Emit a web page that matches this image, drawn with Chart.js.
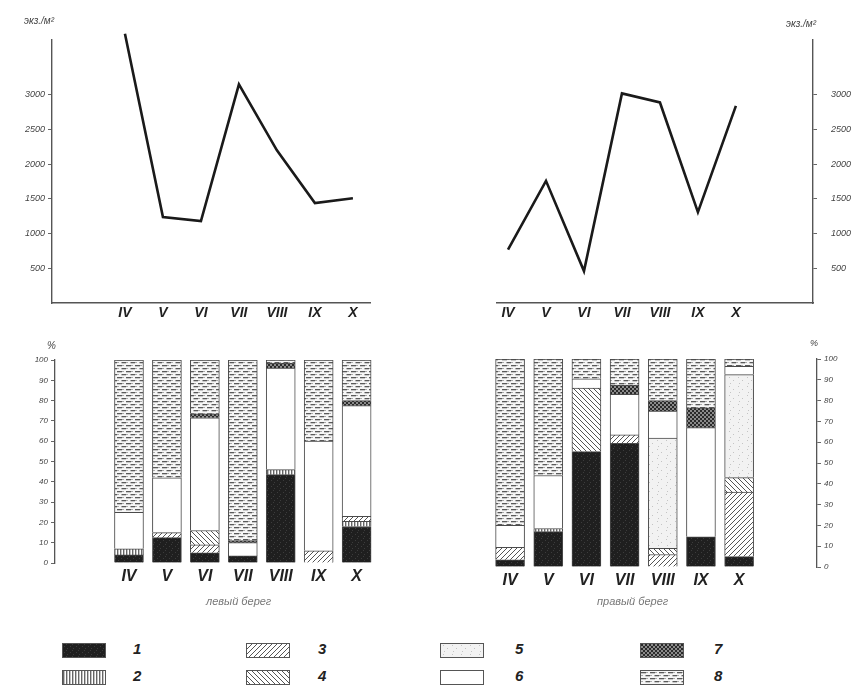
<!DOCTYPE html>
<html>
<head>
<meta charset="utf-8">
<script src="https://cdn.jsdelivr.net/npm/chart.js@4/dist/chart.umd.min.js"></script>
<style>
  html, body { margin: 0; padding: 0; background: #fff; }
  body { width: 859px; height: 689px; position: relative; overflow: hidden;
         font-family: "Liberation Sans", "DejaVu Sans", sans-serif; color: #333; }
  canvas.chart { position: absolute; }
  .txt { position: absolute; font-style: italic; white-space: nowrap; color: #444; }
  .leg { position: absolute; }
  .leg canvas { position: absolute; left: 0; top: 0; border: 1px solid #555; }
  .leg span { position: absolute; top: -3px; font: italic bold 15px "Liberation Sans", sans-serif; color: #222; }
</style>
</head>
<body>
<canvas class="chart" id="lineLeft"  width="400" height="330" style="left:0;top:0"></canvas>
<canvas class="chart" id="lineRight" width="429" height="330" style="left:430px;top:0"></canvas>
<canvas class="chart" id="barLeft"   width="400" height="260" style="left:0;top:340px"></canvas>
<canvas class="chart" id="barRight"  width="429" height="260" style="left:430px;top:340px"></canvas>

<div class="txt" style="left:24px;top:15px;font-size:10px">экз./м²</div>
<div class="txt" style="left:786px;top:18px;font-size:10px">экз./м²</div>
<div class="txt" style="left:47px;top:340px;font-size:10px">%</div>
<div class="txt" style="left:810px;top:338px;font-size:9px">%</div>
<div class="txt" style="left:206px;top:595px;font-size:11px;color:#777">левый берег</div>
<div class="txt" style="left:597px;top:595px;font-size:11px;color:#777">правый берег</div>

<div id="legend"></div>

<script>
// Months of sampling (Roman numerals)
const months = ['IV', 'V', 'VI', 'VII', 'VIII', 'IX', 'X'];

// Total abundance, ind./m²
const abundanceLeft  = [3880, 1240, 1180, 3150, 2200, 1440, 1510];
const abundanceRight = [770, 1760, 460, 3020, 2890, 1310, 2840];
const abundanceTicks = [500, 1000, 1500, 2000, 2500, 3000];

// Share of groups 1–8, % (left bank)
const left1 = [4, 12.5, 5, 3.5, 43.5, 0, 18];
const left2 = [3, 0, 0, 0, 2.5, 0, 2.5];
const left3 = [0, 2.5, 4, 0, 0, 6, 2.5];
const left4 = [0, 0, 7, 0, 0, 0, 0];
const left5 = [0, 0, 0, 0, 0, 0, 0];
const left6 = [18, 27, 55.5, 6.5, 50, 54, 54.5];
const left7 = [0, 0, 2, 1, 2.5, 0, 2.5];
const left8 = [75, 58, 26.5, 89, 1.5, 40, 20];

// Share of groups 1–8, % (right bank)
const right1 = [3.5, 17, 55.5, 59.5, 0, 14.5, 5];
const right2 = [0, 1.5, 0, 0, 0, 0, 0];
const right3 = [6, 0, 0, 4, 6, 0, 31];
const right4 = [0, 0, 30.5, 0, 3, 0, 7];
const right5 = [0, 0, 0, 0, 53, 0, 49.5];
const right6 = [10.5, 25.5, 4.5, 19.5, 13, 52.5, 4];
const right7 = [0, 0, 0, 4.5, 5, 9.5, 0];
const right8 = [80, 56, 9.5, 12.5, 20, 23.5, 3.5];

const groupLabels = ['1', '2', '3', '4', '5', '6', '7', '8'];
const percentTicks = [0, 10, 20, 30, 40, 50, 60, 70, 80, 90, 100];

// ---- fill patterns for the eight groups ----
function tile(w, h, draw) {
  const c = document.createElement('canvas');
  c.width = w; c.height = h;
  const g = c.getContext('2d');
  draw(g, w, h);
  return c;
}
const tiles = [
  tile(6, 6, (g) => { g.fillStyle = '#1f1f1f'; g.fillRect(0, 0, 6, 6);
                      g.fillStyle = '#3c3c3c'; g.fillRect(1, 2, 1, 1); g.fillRect(4, 4, 1, 1); g.fillRect(3, 0, 1, 1); }),
  tile(3, 3, (g) => { g.fillStyle = '#fff'; g.fillRect(0, 0, 3, 3);
                      g.fillStyle = '#666'; g.fillRect(0, 0, 1.4, 3); }),
  tile(5, 5, (g) => { g.fillStyle = '#fff'; g.fillRect(0, 0, 5, 5);
                      g.strokeStyle = '#555'; g.lineWidth = 1;
                      g.beginPath(); g.moveTo(-1, 6); g.lineTo(6, -1); g.moveTo(-1, 1); g.lineTo(1, -1); g.moveTo(4, 6); g.lineTo(6, 4); g.stroke(); }),
  tile(5, 5, (g) => { g.fillStyle = '#fff'; g.fillRect(0, 0, 5, 5);
                      g.strokeStyle = '#555'; g.lineWidth = 1;
                      g.beginPath(); g.moveTo(-1, -1); g.lineTo(6, 6); g.moveTo(4, -1); g.lineTo(6, 1); g.moveTo(-1, 4); g.lineTo(1, 6); g.stroke(); }),
  tile(9, 9, (g) => { g.fillStyle = '#f2f2f2'; g.fillRect(0, 0, 9, 9);
                      g.fillStyle = '#c4c4c4'; g.fillRect(2, 1, 1, 1); g.fillRect(6, 4, 1, 1); g.fillRect(3, 7, 1, 1); }),
  tile(4, 4, (g) => { g.fillStyle = '#fff'; g.fillRect(0, 0, 4, 4); }),
  tile(4, 4, (g) => { g.fillStyle = '#8a8a8a'; g.fillRect(0, 0, 4, 4);
                      g.fillStyle = '#2a2a2a'; g.fillRect(0, 0, 2, 2); g.fillRect(2, 2, 2, 2); }),
  tile(9, 6, (g) => { g.fillStyle = '#f6f6f6'; g.fillRect(0, 0, 9, 6);
                      g.fillStyle = '#5a5a5a'; g.fillRect(0, 1, 5, 1.3); g.fillRect(4.5, 4, 5, 1.3);
                      g.fillStyle = '#aaa'; g.fillRect(5, 1, 2, 1); g.fillRect(0, 4, 2, 1); })
];
const mainCtx = document.createElement('canvas').getContext('2d');
const fills = tiles.map(t => mainCtx.createPattern(t, 'repeat'));

// ---- shared helpers ----
const numFont = { family: 'Liberation Sans', style: 'italic', size: 9 };
const romanFont = (size) => ({ family: 'Liberation Sans', style: 'italic', weight: 'bold', size });
const plain = (v) => String(v);

function fixedTicks(values) {
  return (scale) => { scale.ticks = values.map(v => ({ value: v })); };
}
function monthAxis(min, max, size, opts) {
  return Object.assign({
    type: 'linear', min, max, offset: false,
    afterBuildTicks: fixedTicks(months.map((m, i) => i)),
    ticks: { callback: (v) => months[v] ?? '', color: '#222', font: romanFont(size),
             autoSkip: false, maxRotation: 0, padding: 2 },
  }, opts);
}

// ---- line charts ----
function lineChart(id, values, side, xmin, xmax, padding, yWidth, labelGap) {
  return new Chart(document.getElementById(id), {
    type: 'line',
    data: {
      datasets: [{
        data: values.map((v, i) => ({ x: i, y: v })),
        borderColor: '#1a1a1a', borderWidth: 2.6, pointRadius: 0,
        tension: 0, fill: false, clip: false
      }]
    },
    options: {
      responsive: false, animation: false, events: [],
      layout: { padding },
      plugins: { legend: { display: false }, tooltip: { enabled: false } },
      scales: {
        x: monthAxis(xmin, xmax, 14, {
          grid: { drawOnChartArea: false, drawTicks: false },
          border: { display: true, color: '#555', width: 1.4 },
          afterFit: (s) => { s.height = 27; }
        }),
        y: {
          type: 'linear', position: side, min: 0, max: 3790,
          afterBuildTicks: fixedTicks(abundanceTicks),
          ticks: { color: '#444', font: numFont, padding: labelGap, callback: plain },
          grid: { drawOnChartArea: false, drawTicks: true, tickLength: 4, color: '#666' },
          border: { display: true, color: '#555', width: 1.4 },
          afterFit: (s) => { s.width = yWidth; }
        }
      }
    }
  });
}
lineChart('lineLeft', abundanceLeft, 'left', -1.92, 6.45, { top: 40, right: 30, left: 0, bottom: 0 }, 52, 3);
lineChart('lineRight', abundanceRight, 'right', -0.29, 8.03, { top: 40, left: 67, right: 0, bottom: 0 }, 46, 14);

// ---- stacked bar charts ----
function barChart(id, groups, side, xmin, xmax, padding, yWidth, xHeight) {
  return new Chart(document.getElementById(id), {
    type: 'bar',
    data: {
      datasets: groups.map((arr, k) => ({
        label: groupLabels[k],
        data: arr.map((v, i) => ({ x: i, y: v })).filter(p => p.y > 0),
        backgroundColor: fills[k],
        borderColor: '#4a4a4a', borderWidth: 1,
        barThickness: 29
      }))
    },
    options: {
      responsive: false, animation: false, events: [],
      layout: { padding },
      plugins: { legend: { display: false }, tooltip: { enabled: false } },
      scales: {
        x: monthAxis(xmin, xmax, 16, {
          stacked: true,
          grid: { display: false, drawTicks: false }, border: { display: false },
          ticks: { callback: (v) => months[v] ?? '', color: '#222', font: romanFont(16),
                   autoSkip: false, maxRotation: 0, padding: 4 },
          afterFit: (s) => { s.height = xHeight; }
        }),
        y: {
          type: 'linear', position: side, stacked: true, min: 0, max: 100,
          afterBuildTicks: fixedTicks(percentTicks),
          ticks: { color: '#444', font: { family: 'Liberation Sans', style: 'italic', size: 8 }, padding: 3, callback: plain },
          grid: { drawOnChartArea: false, drawTicks: true, tickLength: 4, color: '#666' },
          border: { display: true, color: '#555', width: 1.3 },
          afterFit: (s) => { s.width = yWidth; }
        }
      }
    }
  });
}
barChart('barLeft', [left1, left2, left3, left4, left5, left6, left7, left8], 'left',
         -1.95, 6.88, { top: 20, right: 10, left: 0, bottom: 0 }, 55, 37);
barChart('barRight', [right1, right2, right3, right4, right5, right6, right7, right8], 'right',
         -1.05, 8.04, { top: 19, left: 40, right: 0, bottom: 0 }, 42, 33);

// ---- legend: two rows, four columns ----
const legendSpots = [
  [62, 643, 133], [62, 670, 133],
  [246, 643, 318], [246, 670, 318],
  [440, 643, 515], [440, 670, 515],
  [640, 643, 714], [640, 670, 714]
];
const legendBox = document.getElementById('legend');
groupLabels.forEach((lab, k) => {
  const [x, y, tx] = legendSpots[k];
  const d = document.createElement('div');
  d.className = 'leg';
  d.style.left = x + 'px'; d.style.top = y + 'px';
  const c = document.createElement('canvas');
  c.width = 42; c.height = 13;
  const g = c.getContext('2d');
  g.fillStyle = g.createPattern(tiles[k], 'repeat');
  g.fillRect(0, 0, 42, 13);
  d.appendChild(c);
  const s = document.createElement('span');
  s.textContent = lab;
  s.style.left = (tx - x) + 'px';
  d.appendChild(s);
  legendBox.appendChild(d);
});
</script>
</body>
</html>
